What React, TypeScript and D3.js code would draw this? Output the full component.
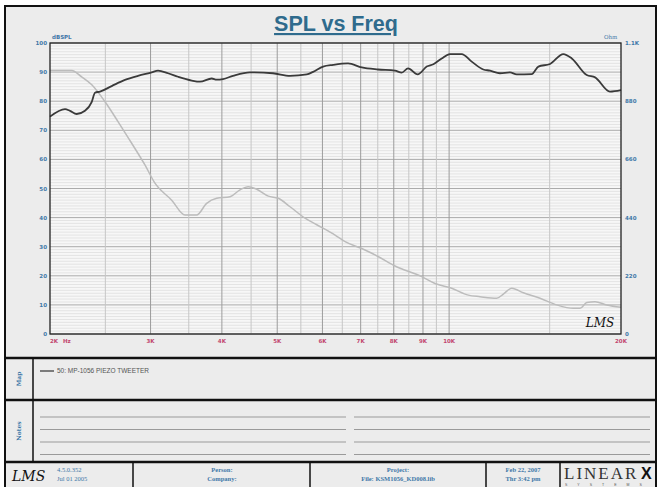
import React from "react";
import * as d3 from "d3";

// ---- data ----
const splFreq = [2000, 2125, 2168, 2227, 2303, 2367, 2398, 2447, 2565, 2706, 2852, 3014, 3092, 3219, 3352, 3542, 3662, 3839, 3917, 4018, 4183, 4479, 4915, 5265, 5634, 5779, 6017, 6264, 6653, 7031, 7507, 8040, 8261, 8473, 8811, 9136, 9383, 9706, 10035, 10520, 10953, 11478, 11793, 12277, 12782, 13132, 13954, 14333, 15024, 15850, 16399, 17419, 18014, 19130, 20000];
const splDb = [74.7, 77.3, 76.7, 75.6, 76.7, 79.8, 82.9, 83.3, 85.2, 87.3, 88.7, 89.9, 90.5, 89.6, 88.4, 87.1, 86.7, 87.8, 87.4, 87.6, 88.7, 89.9, 89.6, 88.7, 89.2, 90.1, 91.9, 92.5, 93.0, 91.6, 90.9, 90.5, 89.8, 91.3, 89.2, 91.9, 92.7, 94.7, 96.2, 96.2, 93.6, 90.9, 90.5, 89.6, 89.9, 89.2, 89.3, 91.9, 92.8, 96.2, 94.7, 89.0, 88.2, 83.3, 83.8];

const impFreq = [2000, 2183, 2273, 2367, 2497, 2631, 2780, 2933, 3054, 3267, 3447, 3613, 3762, 3917, 4133, 4303, 4449, 4603, 4823, 5022, 5265, 5594, 5864, 6314, 6574, 7031, 7507, 8040, 8954, 9447, 10105, 10807, 11329, 12116, 12444, 12871, 13490, 14430, 15432, 16506, 16956, 17419, 18014, 18881, 20000];
const impOhm = [996, 996, 972, 942, 878, 803, 721, 639, 570, 506, 450, 450, 494, 513, 519, 545, 557, 547, 521, 513, 481, 438, 413, 374, 349, 323, 293, 257, 217, 191, 173, 147, 141, 135, 151, 173, 156, 135, 110, 97, 97, 119, 122, 110, 101];

const xTickValues = [2000, 3000, 4000, 5000, 6000, 7000, 8000, 9000, 10000, 20000];
const xTickLabels = ["2K", "3K", "4K", "5K", "6K", "7K", "8K", "9K", "10K", "20K"];
const xMajorGrid = [3000, 4000, 5000, 6000, 7000, 8000, 9000, 10000];
const xMinorGrid = [2500, 3500, 4500, 5500, 6500, 7500, 8500, 9500, 15000];
const leftTicks = [0, 10, 20, 30, 40, 50, 60, 70, 80, 90, 100];
const rightTicks = [0, 220, 440, 660, 880, 1100];
const rightTickLabels = ["0", "220", "440", "660", "880", "1.1K"];

const title = "SPL vs Freq";
const legendLabel = "50: MP-1056 PIEZO TWEETER";

export default function App() {
  const L = 50, R = 621, T = 43, B = 334;
  const x = d3.scaleLog().domain([2000, 20000]).range([L, R]);
  const yL = d3.scaleLinear().domain([0, 100]).range([B, T]);
  const yR = d3.scaleLinear().domain([0, 1100]).range([B, T]);

  const splLine = d3
    .line<number>()
    .x((_, i) => x(splFreq[i]))
    .y((d) => yL(d))
    .curve(d3.curveMonotoneX);
  const impLine = d3
    .line<number>()
    .x((_, i) => x(impFreq[i]))
    .y((d) => yR(d))
    .curve(d3.curveMonotoneX);

  const fineGrid = d3.range(1, 100).filter((v) => v % 10 !== 0);
  const blue = "#3f78a8";
  const red = "#c2476f";
  const tickFont = "Verdana, 'DejaVu Sans', sans-serif";

  const notesY = [417, 429.5, 442, 454.5];

  return (
    <svg
      width={658}
      height={487}
      style={{ position: "absolute", left: 0, top: 0, display: "block" }}
      xmlns="http://www.w3.org/2000/svg"
    >
      <rect x={0} y={0} width={658} height={487} fill="#ffffff" />
      <rect x={5} y={6} width={651} height={485} fill="#ececec" stroke="#111" strokeWidth={2} />

      {/* Title */}
      <text
        x={336}
        y={31}
        textAnchor="middle"
        fontFamily="Arial, 'Liberation Sans', sans-serif"
        fontWeight="bold"
        fontSize={21.5}
        fill="#2f6b8d"
        textDecoration="underline"
      >
        {title}
      </text>

      {/* Plot background */}
      <rect x={L} y={T} width={R - L} height={B - T} fill="#f7f7f7" />

      {/* fine horizontal grid */}
      {fineGrid.map((v) => (
        <line key={"f" + v} x1={L} x2={R} y1={yL(v)} y2={yL(v)} stroke="#dedede" strokeWidth={0.8} />
      ))}
      {leftTicks.map((v) => (
        <line key={"h" + v} x1={L} x2={R} y1={yL(v)} y2={yL(v)} stroke="#ababab" strokeWidth={1} />
      ))}
      {xMinorGrid.map((f) => (
        <line key={"vm" + f} x1={x(f)} x2={x(f)} y1={T} y2={B} stroke="#c6c6c6" strokeWidth={1} />
      ))}
      {xMajorGrid.map((f) => (
        <line key={"vM" + f} x1={x(f)} x2={x(f)} y1={T} y2={B} stroke="#9c9c9c" strokeWidth={1} />
      ))}

      {/* Curves */}
      <path d={impLine(impOhm) || ""} fill="none" stroke="#bcbcbc" strokeWidth={1.5} />
      <path d={splLine(splDb) || ""} fill="none" stroke="#3a3a3a" strokeWidth={1.8} />

      {/* plot frame */}
      <rect x={L} y={T} width={R - L} height={B - T} fill="none" stroke="#222" strokeWidth={1.3} />

      {/* LMS logo in plot */}
      <text x={600} y={327} textAnchor="middle" fontFamily="'DejaVu Serif', serif" fontStyle="italic" fontSize={12} fill="#111">
        LMS
      </text>

      {/* Left axis labels */}
      {leftTicks.map((v) => (
        <text key={"l" + v} x={47} y={yL(v) + 2} textAnchor="end" fontFamily={tickFont} fontWeight="bold" fontSize={5.5} fill={blue}>
          {v}
        </text>
      ))}
      <text x={52} y={39} fontFamily={tickFont} fontWeight="bold" fontSize={5.5} fill={blue}>dBSPL</text>

      {/* Right axis labels */}
      {rightTicks.map((v, i) => (
        <text key={"r" + v} x={625} y={yR(v) + 2} textAnchor="start" fontFamily={tickFont} fontWeight="bold" fontSize={5.5} fill={blue}>
          {rightTickLabels[i]}
        </text>
      ))}
      <text x={604} y={39} fontFamily="'DejaVu Serif', serif" fontSize={5.5} fill={blue}>Ohm</text>

      {/* X axis labels */}
      {xTickValues.map((f, i) => (
        <text key={"x" + f} x={x(f)} y={343} textAnchor={i === 0 ? "start" : "middle"} fontFamily={tickFont} fontWeight="bold" fontSize={5.5} fill={red}>
          {xTickLabels[i]}
        </text>
      ))}
      <text x={63} y={343} fontFamily={tickFont} fontWeight="bold" fontSize={5.5} fill={red}>Hz</text>

      {/* Section dividers */}
      <line x1={5} x2={656} y1={358} y2={358} stroke="#111" strokeWidth={2.5} />
      <line x1={5} x2={656} y1={400} y2={400} stroke="#111" strokeWidth={2.5} />
      <line x1={5} x2={656} y1={462} y2={462} stroke="#111" strokeWidth={2.5} />
      <line x1={33} x2={33} y1={358} y2={462} stroke="#111" strokeWidth={1.5} />

      {/* Map row */}
      <text transform="translate(21,379) rotate(-90)" textAnchor="middle" fontFamily="'DejaVu Serif', serif" fontWeight="bold" fontSize={6} fill={blue}>Map</text>
      <line x1={40} x2={54} y1={371} y2={371} stroke="#333" strokeWidth={1.2} />
      <text x={57} y={373} fontFamily="Arial, 'Liberation Sans', sans-serif" fontSize={6.5} fill="#555">{legendLabel}</text>

      {/* Notes row */}
      <text transform="translate(21,431) rotate(-90)" textAnchor="middle" fontFamily="'DejaVu Serif', serif" fontWeight="bold" fontSize={6} fill={blue}>Notes</text>
      {notesY.map((yy) => (
        <g key={"n" + yy}>
          <line x1={40} x2={346} y1={yy} y2={yy} stroke="#9a9a9a" strokeWidth={1} />
          <line x1={354} x2={650} y1={yy} y2={yy} stroke="#9a9a9a" strokeWidth={1} />
        </g>
      ))}

      {/* Footer */}
      {[133, 310, 486, 560].map((xx) => (
        <line key={"fd" + xx} x1={xx} x2={xx} y1={462} y2={487} stroke="#111" strokeWidth={1.5} />
      ))}
      <text x={12} y={481} fontFamily="'DejaVu Serif', serif" fontStyle="italic" fontSize={14} fill="#111">LMS</text>
      <text x={57} y={472} fontFamily="'Liberation Serif', serif" fontSize={6.5} fill={blue}>4.5.0.352</text>
      <text x={57} y={481} fontFamily="'Liberation Serif', serif" fontSize={6.5} fill={blue}>Jul 01 2005</text>
      <text x={222} y={472} textAnchor="middle" fontFamily="'Liberation Serif', serif" fontWeight="bold" fontSize={6.5} fill={blue}>Person:</text>
      <text x={222} y={481} textAnchor="middle" fontFamily="'Liberation Serif', serif" fontWeight="bold" fontSize={6.5} fill={blue}>Company:</text>
      <text x={398} y={472} textAnchor="middle" fontFamily="'Liberation Serif', serif" fontWeight="bold" fontSize={6.5} fill={blue}>Project:</text>
      <text x={398} y={481} textAnchor="middle" fontFamily="'Liberation Serif', serif" fontWeight="bold" fontSize={6.5} fill={blue}>File: KSM1056_KD008.lib</text>
      <text x={523} y={472} textAnchor="middle" fontFamily="'Liberation Serif', serif" fontWeight="bold" fontSize={6.5} fill={blue}>Feb 22, 2007</text>
      <text x={523} y={481} textAnchor="middle" fontFamily="'Liberation Serif', serif" fontWeight="bold" fontSize={6.5} fill={blue}>Thr  3:42 pm</text>
      <text x={564} y={479} fontFamily="'Liberation Serif', serif" fontSize={17} letterSpacing={2} fill="#333">LINEAR</text>
      <text x={641} y={479} fontFamily="Arial, 'Liberation Sans', sans-serif" fontWeight="bold" fontSize={16} fill="#111">X</text>
      <text x={565} y={486} fontFamily="Arial, sans-serif" fontSize={3.5} letterSpacing={10} fill="#555">SYSTEMS</text>
    </svg>
  );
}
